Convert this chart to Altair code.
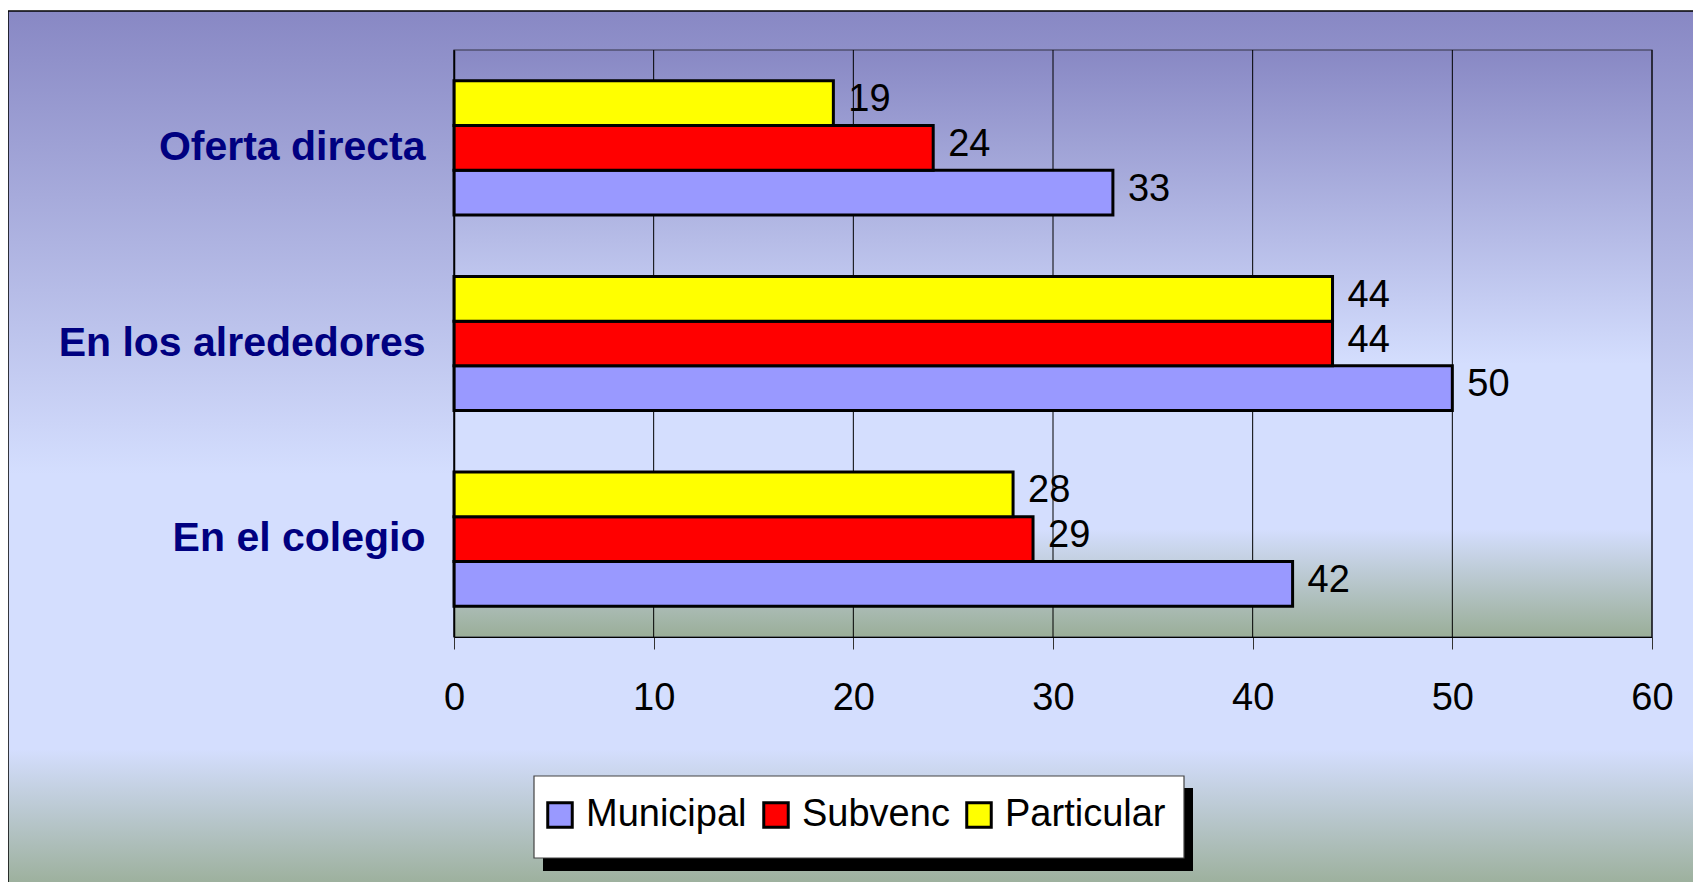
import altair as alt
import pandas as pd

categories = ["Oferta directa", "En los alrededores", "En el colegio"]
series = ["Municipal", "Subvenc", "Particular"]
municipal = [33, 50, 42]
subvenc = [24, 44, 29]
particular = [19, 44, 28]
x_ticks = [0, 10, 20, 30, 40, 50, 60]
colors = ["#9999FF", "#FF0000", "#FFFF00"]

rows = []
for i, c in enumerate(categories):
    rows.append({"cat": c, "serie": "Municipal", "v": municipal[i]})
    rows.append({"cat": c, "serie": "Subvenc", "v": subvenc[i]})
    rows.append({"cat": c, "serie": "Particular", "v": particular[i]})
df = pd.DataFrame(rows)

W, H = 1198, 587
SANS = "Liberation Sans, Arial"

def grad(y_top_frac_light, y_bot_frac_light):
    return alt.Gradient(
        gradient="linear", x1=0, y1=0, x2=0, y2=1,
        stops=[
            alt.GradientStop(offset=0, color="#8888C4"),
            alt.GradientStop(offset=y_top_frac_light, color="#D4DEFE"),
            alt.GradientStop(offset=y_bot_frac_light, color="#D4DEFE"),
            alt.GradientStop(offset=1, color="#9AAE98"),
        ],
    )

one = pd.DataFrame({"k": [0]})

outer_bg = alt.Chart(one).mark_rect(
    fill=grad(0.527, 0.84), stroke="black", strokeWidth=1.5
).encode(
    x=alt.value(-446), x2=alt.value(1260), y=alt.value(-39), y2=alt.value(840)
)

plot_bg = alt.Chart(one).mark_rect(
    fill=grad(0.535, 0.816), stroke="#333344", strokeWidth=1.2
).encode(
    x=alt.value(0), x2=alt.value(W), y=alt.value(0), y2=alt.value(H)
)

xscale = alt.Scale(domain=[0, 60], nice=False)

grid = alt.Chart(pd.DataFrame({"t": x_ticks})).mark_rule(
    color="#000000", strokeWidth=1
).encode(x=alt.X("t:Q", scale=xscale))

yenc = alt.Y(
    "cat:N", sort=categories, title=None,
    scale=alt.Scale(paddingInner=0.314, paddingOuter=0.157),
    axis=alt.Axis(
        labelFont=SANS, labelFontWeight="bold", labelFontSize=41,
        labelColor="#000080", labelPadding=29, ticks=False,
        domain=True, domainColor="black", domainWidth=1.5, zindex=1,
        labelLimit=600,
    ),
)
yoff = alt.YOffset("serie:N", sort=["Particular", "Subvenc", "Municipal"])

bars = alt.Chart(df).mark_bar(stroke="black", strokeWidth=3).encode(
    x=alt.X(
        "v:Q", scale=xscale, title=None,
        axis=alt.Axis(
            values=x_ticks, grid=False, labelFont=SANS, labelFontSize=38,
            labelColor="black", tickSize=12, tickColor="#333333",
            domainColor="black", domainWidth=1.2, labelPadding=30, zindex=1,
            labelFlush=False,
        ),
    ),
    y=yenc,
    yOffset=yoff,
    color=alt.Color(
        "serie:N",
        scale=alt.Scale(domain=series, range=colors),
        legend=alt.Legend(
            title=None, orient="none", direction="horizontal",
            legendX=87, legendY=746,
            labelFont=SANS, labelFontSize=38, labelColor="black",
            labelLimit=500,
            symbolType="square", symbolSize=600, symbolStrokeWidth=3,
            symbolStrokeColor="black", symbolOpacity=1,
            labelOffset=7, columnPadding=10, padding=0,
        ),
    ),
)

labels = alt.Chart(df).mark_text(
    align="left", baseline="middle", dx=15, dy=-3,
    font=SANS, fontSize=38, color="black",
).encode(
    x=alt.X("v:Q", scale=xscale),
    y=alt.Y("cat:N", sort=categories),
    yOffset=yoff,
    text="v:Q",
)

shadow = alt.Chart(one).mark_rect(fill="black").encode(
    x=alt.value(89), x2=alt.value(739), y=alt.value(738), y2=alt.value(821)
)

legend_box = alt.Chart(one).mark_rect(
    fill="white", stroke="#444444", strokeWidth=1.2
).encode(
    x=alt.value(80), x2=alt.value(730), y=alt.value(726), y2=alt.value(808)
)

chart = alt.layer(outer_bg, plot_bg, grid, bars, labels, shadow, legend_box).properties(
    width=W, height=H,
    autosize=alt.AutoSizeParams(type="none"),
    padding={"left": 446, "top": 42, "right": 41, "bottom": 245},
).configure_view(stroke=None)

chart.save("out.html", embed_options={"renderer": "svg", "actions": False})
